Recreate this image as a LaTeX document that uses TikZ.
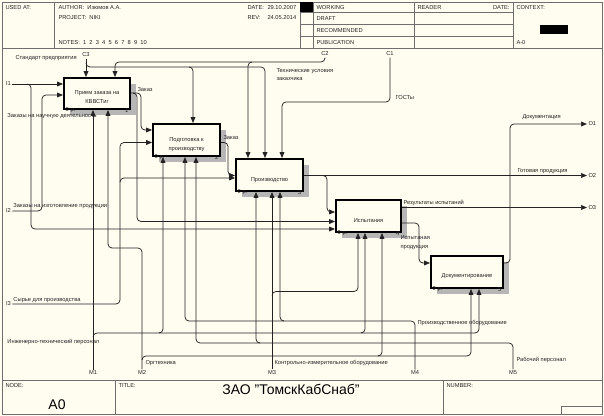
\documentclass[tikz,border=0pt]{standalone}
\usepackage{fontspec}
\setmainfont{Liberation Sans}
\usetikzlibrary{arrows.meta,shadows}

\definecolor{bgc}{RGB}{255,252,240}
\definecolor{shc}{RGB}{182,182,182}
\definecolor{frc}{RGB}{110,110,110}
\definecolor{lnc}{RGB}{35,35,35}

\tikzset{every picture/.style={line width=0.75pt}}
\tikzset{
fbox/.style={draw=black, line width=1.4pt, fill=bgc, inner sep=0pt,
  drop shadow={shadow xshift=4.5pt, shadow yshift=-4.5pt, opacity=1, fill=shc}},
btxt/.style={font=\fontsize{4.3}{6.8}\selectfont, align=center, inner sep=0pt, text=lnc},
lbl/.style={font=\fontsize{4.3}{6.6}\selectfont, inner sep=0.75pt, text=lnc},
corner/.style={font=\fontsize{4.3}{6.6}\selectfont, inner sep=0pt, outer sep=0pt, text=lnc},
big/.style={font=\fontsize{10.5}{12}\selectfont, inner sep=0.75pt, text=black},
arr/.style={draw=lnc, line width=0.55pt, rounded corners=3pt, -{Triangle[length=4.5pt,width=3.6pt]}},
frm/.style={draw=frc, line width=0.6pt}
}

\begin{document}
\begin{tikzpicture}[x=0.75pt,y=0.75pt,yscale=-1,xscale=1]

%Shape: Background
\fill[bgc] (0,0) rectangle (604,416);
%Shape: Frame
\draw[frm] (2,2) rectangle (602,414);
%Straight Lines: header grid
\draw[frm] (2,48) -- (602,48);
\draw[frm] (54,2) -- (54,48) (300,2) -- (300,48) (313,2) -- (313,48) (414,2) -- (414,48) (513,2) -- (513,48);
\draw[frm] (300,12.5) -- (513,12.5) (300,24.5) -- (513,24.5) (300,36.5) -- (513,36.5);
\fill[black] (300,2) rectangle (313,12.5);
\fill[black] (540,25) rectangle (568,34);
%Straight Lines: footer grid
\draw[frm] (2,380) -- (602,380) (115,380) -- (115,414) (443,380) -- (443,414);
\draw[frm] (561,406) rectangle (602,414);

% Text Node: header
\draw (4,7.5) node [lbl,anchor=west] (usedat) {USED AT:};
\draw (57,7.5) node [lbl,anchor=west] (author) {AUTHOR:\ \ Изюмов А.А.};
\draw (57,17.5) node [lbl,anchor=west] (project) {PROJECT:\ \ NIKI};
\draw (57,42.5) node [lbl,anchor=west] (notes) {NOTES:\ \ 1\ \ 2\ \ 3\ \ 4\ \ 5\ \ 6\ \ 7\ \ 8\ \ 9\ \ 10};
\draw (246,7.5) node [lbl,anchor=west] (date) {DATE:};
\draw (266,7.5) node [lbl,anchor=west] (dateval) {29.10.2007};
\draw (246,17.5) node [lbl,anchor=west] (rev) {REV:};
\draw (266,17.5) node [lbl,anchor=west] (revval) {24.05.2014};
\draw (315,7.5) node [lbl,anchor=west] (working) {WORKING};
\draw (315,18.5) node [lbl,anchor=west] (draft) {DRAFT};
\draw (315,30.5) node [lbl,anchor=west] (recom) {RECOMMENDED};
\draw (315,42.5) node [lbl,anchor=west] (publ) {PUBLICATION};
\draw (416,7.5) node [lbl,anchor=west] (reader) {READER};
\draw (511,7.5) node [lbl,anchor=east] (rdate) {DATE:};
\draw (515,7.5) node [lbl,anchor=west] (context) {CONTEXT:};
\draw (515,43) node [lbl,anchor=west] (ctxnode) {A-0};

% Text Node: footer
\draw (4,386) node [lbl,anchor=west] (nodelbl) {NODE:};
\draw (57,405) node [big] (nodeval) {A0};
\draw (117,386) node [lbl,anchor=west] (titlelbl) {TITLE:};
\draw (291,389) node [big] (titleval) {ЗАО "ТомскКабСнаб"};
\draw (445,386) node [lbl,anchor=west] (numlbl) {NUMBER:};

%Shape: Rectangle (activity boxes)
\node [fbox, minimum width=49.5pt, minimum height=23.25pt] (b1) at (97,93.5) {};
\node [fbox, minimum width=50.25pt, minimum height=24pt] (b2) at (186.5,140) {};
\node [fbox, minimum width=50.25pt, minimum height=24pt] (b3) at (269.5,175) {};
\node [fbox, minimum width=48.75pt, minimum height=24pt] (b4) at (368.5,216) {};
\node [fbox, minimum width=54pt, minimum height=24pt] (b5) at (467,272) {};

% Text Node: box texts
\node [btxt] (t1) at ([yshift=2.6pt]b1.center) {Прием заказа на\\КВВСТиг};
\node [btxt] (t2) at ([yshift=3.75pt]b2.center) {Подготовка к\\производству};
\node [btxt] (t3) at ([yshift=3.75pt]b3.center) {Производство};
\node [btxt] (t4) at ([yshift=3.75pt]b4.center) {Испытания};
\node [btxt] (t5) at ([yshift=3pt]b5.center) {Документирование};
\node [corner,anchor=south west] (b1c) at ([xshift=2pt,yshift=2pt]b1.south west) {0 р.};
\node [corner,anchor=south east] (b1n) at ([xshift=-2pt,yshift=2pt]b1.south east) {1};
\node [corner,anchor=south west] (b2c) at ([xshift=2pt,yshift=2pt]b2.south west) {0 р.};
\node [corner,anchor=south east] (b2n) at ([xshift=-2pt,yshift=2pt]b2.south east) {2};
\node [corner,anchor=south west] (b3c) at ([xshift=2pt,yshift=2pt]b3.south west) {0 р.};
\node [corner,anchor=south east] (b3n) at ([xshift=-2pt,yshift=2pt]b3.south east) {3};
\node [corner,anchor=south west] (b4c) at ([xshift=2pt,yshift=2pt]b4.south west) {0 р.};
\node [corner,anchor=south east] (b4n) at ([xshift=-2pt,yshift=2pt]b4.south east) {4};
\node [corner,anchor=south west] (b5c) at ([xshift=2pt,yshift=2pt]b5.south west) {0 р.};
\node [corner,anchor=south east] (b5n) at ([xshift=-2pt,yshift=2pt]b5.south east) {5};

% Text Node: tunnel ends
\draw (8.5,84) node [lbl] (i1) {I1};
\draw (8.5,211) node [lbl] (i2) {I2};
\draw (8.5,304) node [lbl] (i3) {I3};
\draw (86,55) node [lbl] (c3) {C3};
\draw (325,54) node [lbl] (c2) {C2};
\draw (390,54) node [lbl] (c1) {C1};
\draw (587,124) node [lbl,anchor=west] (o1) {O1};
\draw (587,175.5) node [lbl,anchor=west] (o2) {O2};
\draw (587,207.5) node [lbl,anchor=west] (o3) {O3};
\draw (93,373) node [lbl] (m1) {M1};
\draw (142,373) node [lbl] (m2) {M2};
\draw (272,373) node [lbl] (m3) {M3};
\draw (415,373) node [lbl] (m4) {M4};
\draw (513,373) node [lbl] (m5) {M5};

%Straight Lines: inputs
\draw[arr] (i1.east) -- (i1.east -| b1.west);
\draw[arr] (27,84) -- (31,84) -- (31,229) -- (b4.west |- 0,229);
\draw[arr] (i2.east) -- (42,211) -- (42,95) -- (b1.west |- 0,95);
\draw[arr] (i3.east) -- (120,304) -- (120,142.5) -- (b2.west |- 0,142.5);
\draw[arr] (120,182) -- (120,178) -- (b3.west |- 0,178);
%Straight Lines: box to box
\draw[arr] (b1.east |- 0,93) -- (141,93) -- (141,130) -- (b2.west |- 0,130);
\draw[arr] (133,93) -- (137,93) -- (137,221.5) -- (b4.west |- 0,221.5);
\draw[arr] (b2.east |- 0,142.5) -- (228,142.5) -- (228,175.5) -- (b3.west |- 0,175.5);
\draw[arr] (b3.east |- o2.west) -- (o2.west);
\draw[arr] (323,175.5) -- (327,175.5) -- (327,212) -- (b4.west |- 0,212);
\draw[arr] (b4.east |- o3.west) -- (o3.west);
\draw[arr] (b4.east |- 0,223) -- (419,223) -- (419,263) -- (b5.west |- 0,263);
\draw[arr] (b5.east |- 0,263) -- (510,263) -- (510,124) -- (o1.west);
%Straight Lines: controls
\draw[arr] (c3.south) -- (c3.south |- b1.north);
\draw[arr] (86,63) -- (86,67) -- (265,67) -- (b3.north -| 265,0);
\draw[arr] (189,67) -- (193,67) -- (b2.north -| 193,0);
\draw[arr] (c2.south) -- (325,62) -- (115,62) -- (b1.north -| 115,0);
\draw[arr] (252,62) -- (248,62) -- (b3.north -| 248,0);
\draw[arr] (c1.south) -- (390,102) -- (282,102) -- (b3.north -| 282,0);
%Straight Lines: mechanisms
\draw[arr] (m1.north) -- (m1.north |- b1.south);
\draw[arr] (93,337) -- (93,333) -- (479,333) -- (b5.south -| 479,0);
\draw[arr] (159,333) -- (163,333) -- (b2.south -| 163,0);
\draw[arr] (361,333) -- (365,333) -- (b4.south -| 365,0);
\draw[arr] (m2.north) -- (142,248) -- (108,248) -- (b1.south -| 108,0);
\draw[arr] (142,360) -- (142,356) -- (471,356) -- (b5.south -| 471,0);
\draw[arr] (378,356) -- (382,356) -- (b4.south -| 382,0);
\draw[arr] (m3.north) -- (m3.north |- b3.south);
\draw[arr] (272,295.5) -- (272,291.5) -- (358,291.5) -- (b4.south -| 358,0);
\draw[arr] (m4.north) -- (415,321) -- (185,321) -- (b2.south -| 185,0);
\draw[arr] (284,321) -- (280,321) -- (b3.south -| 280,0);
\draw[arr] (m5.north) -- (513,343) -- (196,343) -- (b2.south -| 196,0);
\draw[arr] (260,343) -- (256,343) -- (b3.south -| 256,0);

% Text Node: arrow labels
\draw (14,58) node [lbl,anchor=west] (lstd) {Стандарт предприятия};
\draw (275,74.5) node [lbl,anchor=west,align=left] (ltech) {Технические условия\\заказчика};
\draw (394,98) node [lbl,anchor=west] (lgost) {ГОСТы};
\draw (6,116) node [lbl,anchor=west] (lnauch) {Заказы на научную деятельность};
\draw (12,206) node [lbl,anchor=west] (lizg) {Заказы на изготовление продукции};
\draw (12,300) node [lbl,anchor=west] (lsyr) {Сырье для производства};
\draw (136,89.5) node [lbl,anchor=west] (lzak1) {Заказ};
\draw (222,138) node [lbl,anchor=west] (lzak2) {Заказ};
\draw (516,171) node [lbl,anchor=west] (lgot) {Готовая продукция};
\draw (521,117) node [lbl,anchor=west] (ldoc) {Документация};
\draw (402,203) node [lbl,anchor=west] (lres) {Результаты испытаний};
\draw (399,243) node [lbl,anchor=west,align=left] (lisp) {Испытаная\\продукция};
\draw (6,342) node [lbl,anchor=west] (litr) {Инженерно-технический персонал};
\draw (144,363) node [lbl,anchor=west] (lorg) {Оргтехника};
\draw (273,363) node [lbl,anchor=west] (lkip) {Контрольно-измерительное оборудование};
\draw (416,323) node [lbl,anchor=west] (lprod) {Производственное оборудование};
\draw (515,360) node [lbl,anchor=west] (lrab) {Рабочий персонал};

\end{tikzpicture}
\end{document}
